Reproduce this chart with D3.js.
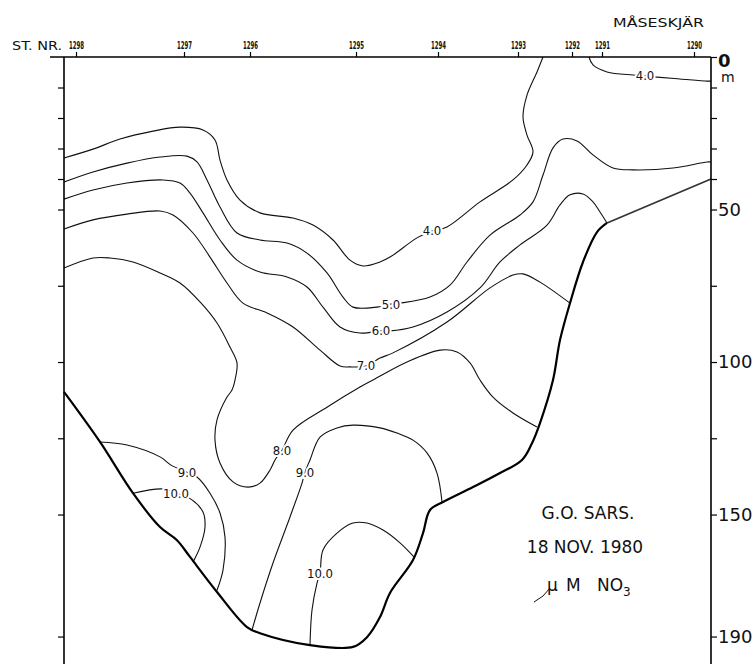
<!DOCTYPE html>
<html>
<head>
<meta charset="utf-8">
<script src="https://cdn.jsdelivr.net/npm/d3@7"></script>
<style>
html,body{margin:0;padding:0;background:#fff;}
svg{display:block;}
</style>
</head>
<body>
<svg id="chart" width="753" height="664"></svg>
<script>
// ---------- DATA ----------
const stations   = ["1298","1297","1296","1295","1294","1293","1292","1291","1290"];
const stationKm  = [0.6, 6.0, 9.3, 14.6, 18.7, 22.7, 25.4, 26.9, 31.5];
const depthTicks = [0,10,20,30,40,50,75,100,125,150,190];
const depthLabels = [0,50,100,150,190];

// bottom profile [km, depth m]
const bottomProfile = [[0,109.8],[1.8,126.2],[3.45,143.0],[4.8,154.1],[5.65,158.4],[6.3,163.9],[7.65,175.4],
  [9.15,186.9],[9.8,188.9],[12.3,192.8],[14.45,193.4],[15.15,190.2],[15.8,183.6],[16.3,175.7],[17.45,164.9],
  [17.95,156.1],[18.3,148.5],[18.95,145.9],[20.45,141.0],[21.8,136.4],[22.9,132.1],[23.4,126.6],[23.8,120.0],
  [24.45,105.9],[24.8,92.8],[25.3,80.7],[25.95,67.2],[26.65,57.4],[27.15,54.4]];
const bottomShelf = [[27.15,54.4],[32.35,40.0]];

// NO3 isolines (µM) [km, depth m]
const iso40a = [[0,33.1],[1.45,30.2],[2.8,26.9],[4.45,24.3],[5.8,23.0],[6.95,23.9],[7.55,27.2],[7.8,33.8],
  [8.15,40.3],[8.8,46.9],[9.8,51.1],[11.45,52.8],[12.45,55.1],[13.45,60.0],[14.3,66.6],[14.95,68.5],[15.8,67.2],
  [16.3,65.6],[17.65,59.3],[18.4,57.0],[19.15,55.7],[20.8,47.5],[22.45,40.3],[23.15,35.4],[23.45,31.1],
  [23.15,25.6],[22.95,19.7],[23.15,12.5],[23.65,4.9],[23.95,0]];
const iso40b = [[26.25,0],[26.45,2.6],[27.15,4.9],[28.45,5.9],[29.05,6.2],[29.65,6.6],[30.8,7.2],[32.15,7.9],[32.35,7.9]];
const iso50 = [[0,41.0],[1.45,37.7],[3.15,34.8],[4.8,32.8],[6.15,32.5],[6.65,34.4],[7.15,40.3],[7.8,49.2],
  [8.65,57.7],[9.8,60.0],[11.15,61.0],[12.15,64.3],[13.15,70.8],[13.95,78.7],[14.45,82.0],[15.65,82.0],
  [16.35,81.0],[16.8,80.7],[18.3,78.7],[19.3,74.8],[20.15,67.2],[21.3,58.4],[22.8,51.8],[23.45,47.5],
  [23.95,38.7],[24.45,29.8],[24.95,26.9],[25.65,27.5],[26.45,32.1],[27.45,36.4],[28.45,37.0],[30.45,36.4],
  [32.15,34.4],[32.35,34.4]];
const iso60 = [[0,46.6],[1.45,43.6],[3.15,41.3],[4.95,40.3],[5.8,41.3],[6.3,44.6],[6.95,51.1],[7.8,60.0],
  [8.65,66.6],[9.8,70.5],[11.15,72.1],[12.15,75.4],[12.95,82.0],[13.8,88.5],[14.8,90.5],[15.85,89.8],
  [16.3,89.8],[17.45,88.5],[19.15,83.6],[20.8,75.7],[21.8,67.2],[22.8,61.6],[24.15,55.1],[24.8,48.5],
  [25.3,45.2],[25.95,44.9],[26.45,47.5],[26.8,50.8],[27.15,54.4]];
const iso70 = [[0,56.4],[1.45,53.4],[3.15,51.5],[4.8,50.5],[5.45,51.8],[6.45,57.7],[7.3,65.6],[8.15,74.1],
  [8.95,80.7],[10.15,83.9],[11.45,88.5],[12.8,96.1],[13.8,101.3],[14.3,101.6],[15.1,101.3],[15.8,98.7],
  [16.45,97.0],[19.15,86.9],[21.3,75.7],[22.45,71.5],[22.95,71.1],[23.8,73.8],[25.3,80.7]];
const iso80 = [[0,69.2],[1.45,65.9],[2.3,65.9],[3.45,67.2],[4.8,70.8],[5.8,74.1],[6.8,80.3],[7.65,87.2],
  [8.3,95.1],[8.65,100.3],[8.55,105.9],[8.4,109.2],[8.15,111.5],[7.65,119.0],[7.55,125.6],[7.8,133.1],
  [8.45,139.3],[9.2,141.0],[9.8,139.7],[10.3,135.4],[10.55,132.1],[10.9,128.9],[11.45,122.3],[13.15,114.8],
  [14.8,108.2],[15.45,105.9],[17.15,100.0],[18.8,96.1],[19.65,96.7],[20.3,100.3],[20.8,105.9],[21.45,111.5],
  [22.45,116.7],[23.65,121.3]];
const iso90a = [[1.8,126.2],[3.15,127.2],[4.8,131.1],[5.35,133.8],[6.15,136.1],[6.65,137.7],[7.3,143.0],
  [7.8,149.5],[8.05,157.4],[7.95,168.2],[7.65,174.8]];
const iso90b = [[9.4,187.9],[9.8,179.0],[10.45,165.9],[11.3,150.8],[11.9,139.7],[12.05,136.1],[12.3,132.1],
  [12.8,124.6],[13.65,121.6],[14.45,120.7],[15.8,121.6],[16.65,123.3],[17.45,125.6],[18.15,129.8],
  [18.65,136.4],[18.9,145.9]];
const iso100a = [[3.45,143.0],[4.95,141.6],[5.6,143.0],[6.4,145.2],[6.95,149.2],[7.05,154.1],[6.8,160.7],[6.45,165.6]];
const iso100b = [[12.3,192.8],[12.4,181.3],[12.65,172.5],[12.8,169.2],[12.95,161.6],[13.65,156.1],[14.45,152.8],
  [15.15,152.8],[15.95,155.1],[16.8,159.3],[17.55,164.3]];

const isoLabels = ["4.0","4.0","5.0","6.0","7.0","8.0","9.0","10.0","9.0","10.0"];
const isoLabelAt = [[18.4,57.0],[29.05,6.2],[16.35,81.0],[15.85,89.8],[15.1,101.3],[10.9,128.9],[6.15,136.1],[5.6,143.0],[12.05,136.1],[12.8,169.2]];

// ---------- DRAW ----------
const svg = d3.select("#chart");
const x = d3.scaleLinear().domain([0, 32.35]).range([64, 711]);
const y = d3.scaleLinear().domain([0, 199]).range([57, 664]);
const FONT = "'DejaVu Sans Condensed','DejaVu Sans',sans-serif";
const FONT2 = "'DejaVu Sans',sans-serif";

const line = d3.line().x(d => x(d[0])).y(d => y(d[1])).curve(d3.curveCatmullRom.alpha(0.5));

// isolines
const isos = [iso40a, iso40b, iso50, iso60, iso70, iso80, iso90a, iso90b, iso100a, iso100b];
svg.append("g").selectAll("path").data(isos).join("path")
  .attr("d", line).attr("fill","none").attr("stroke","#111").attr("stroke-width",1.1);

// bottom
svg.append("path").datum(bottomProfile).attr("d", line)
  .attr("fill","none").attr("stroke","#000").attr("stroke-width",2.2);
svg.append("path").datum(bottomShelf).attr("d", line)
  .attr("fill","none").attr("stroke","#333").attr("stroke-width",1.7);

// isoline labels
svg.append("g").selectAll("text").data(isoLabels).join("text")
  .attr("x",(d,i)=>x(isoLabelAt[i][0])).attr("y",(d,i)=>y(isoLabelAt[i][1]))
  .attr("text-anchor","middle").attr("dominant-baseline","central")
  .attr("font-family",FONT).attr("font-size",13)
  .attr("stroke","#fff").attr("stroke-width",4).attr("paint-order","stroke")
  .attr("fill","#111").text(d=>d);

// top axis
svg.append("line").attr("x1", x(-0.7)).attr("x2", x(32.35)).attr("y1", y(0)).attr("y2", y(0))
  .attr("stroke","#000").attr("stroke-width",1.4);
const topAxis = d3.axisTop(x).tickValues(stationKm).tickSize(5).tickPadding(3)
  .tickFormat((d,i)=>stations[i]);
const gt = svg.append("g").attr("transform",`translate(0,${y(0)})`).call(topAxis);
gt.select(".domain").remove();
gt.selectAll(".tick line").attr("stroke","#000").attr("stroke-width",1.2);
gt.selectAll(".tick text").attr("font-family",FONT).attr("font-size",10.5).attr("font-weight","bold")
  .attr("fill","#111").attr("textLength",15).attr("lengthAdjust","spacingAndGlyphs");

// left axis
const leftAxis = d3.axisLeft(y).tickValues(depthTicks).tickSize(6).tickFormat("");
const gl = svg.append("g").attr("transform",`translate(${x(0)},0)`).call(leftAxis);
gl.select(".domain").attr("stroke","#000").attr("stroke-width",1.6).attr("d",`M0,${y(0)}V664`);
gl.selectAll(".tick line").attr("stroke","#000").attr("stroke-width",1.2);
gl.selectAll(".tick").filter(d=>d===0).remove();

// right axis
const rightAxis = d3.axisRight(y).tickValues(depthTicks).tickSize(6).tickPadding(1)
  .tickFormat(d => depthLabels.includes(d) ? d : "");
const gr = svg.append("g").attr("transform",`translate(${x(32.35)},0)`).call(rightAxis);
gr.select(".domain").attr("stroke","#000").attr("stroke-width",1.6).attr("d",`M0,${y(0)}V664`);
gr.selectAll(".tick line").attr("stroke","#000").attr("stroke-width",1.2);
gr.selectAll(".tick text").attr("font-family",FONT2).attr("font-size",18).attr("fill","#111");
gr.selectAll(".tick text").filter(d=>d===0).attr("font-weight","bold").attr("font-size",18).attr("dy","0.5em");

// unit "m"
svg.append("text").attr("x", x(32.35)+10).attr("y", y(8.3)).attr("font-family",FONT2)
  .attr("font-size",14).attr("fill","#111").text("m");

// header texts
svg.append("text").attr("x",12).attr("y",50).attr("font-family",FONT).attr("font-size",13)
  .attr("fill","#111").attr("textLength",50).attr("lengthAdjust","spacingAndGlyphs").text("ST. NR.");
svg.append("text").attr("x",613).attr("y",27).attr("font-family",FONT2).attr("font-size",13)
  .attr("fill","#111").attr("textLength",91).attr("lengthAdjust","spacingAndGlyphs").text("MÅSESKJÄR");

// annotation
const ann = svg.append("g").attr("font-family",FONT2).attr("font-size",17).attr("fill","#111");
ann.append("text").attr("x",588).attr("y",519).attr("text-anchor","middle").text("G.O. SARS.");
ann.append("text").attr("x",585).attr("y",553).attr("text-anchor","middle").text("18 NOV. 1980");
ann.append("text").attr("x",547).attr("y",591).text("µ");
ann.append("text").attr("x",566).attr("y",591).text("M");
const t3 = ann.append("text").attr("x",597).attr("y",591);
t3.append("tspan").text("NO");
t3.append("tspan").attr("font-size",12).attr("dy",5).text("3");
svg.append("path").attr("d","M534,602 Q544,597 550,588").attr("fill","none").attr("stroke","#111").attr("stroke-width",1);
</script>
</body>
</html>
